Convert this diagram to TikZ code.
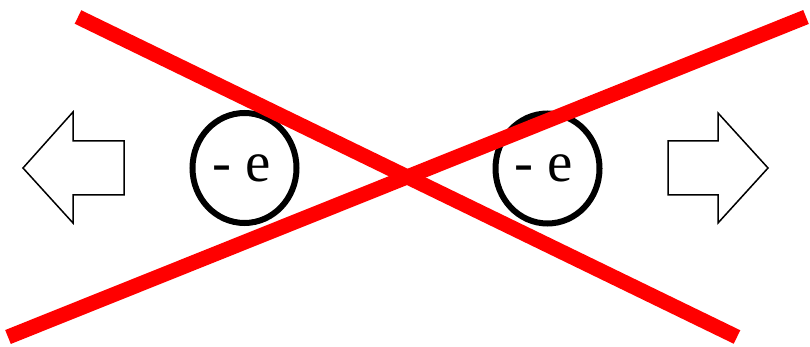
\documentclass[tikz,border=0pt]{standalone}
\usepackage{fontspec}
\setmainfont{Liberation Serif}
\usetikzlibrary{shapes.geometric}
\begin{document}
\begin{tikzpicture}[x=1pt,y=-1pt,
  charge/.style={ellipse,draw=black,line width=6pt,minimum width=104pt,minimum height=110pt,inner sep=0pt},
  chargetext/.style={anchor=base,inner sep=0pt,font=\fontsize{57}{57}\selectfont},
  bigarrow/.style={draw=black,line width=1.5pt,fill=white,line join=miter},
  cross/.style={draw=red,line width=15pt,line cap=butt}]
\useasboundingbox (0,0) rectangle (810,347);
% arrows
\draw[bigarrow] (23,168) -- (73,112) -- (73,141) -- (124,141) -- (124,195) -- (73,195) -- (73,223) -- cycle;
\draw[bigarrow] (768,168) -- (718,113) -- (718,141) -- (668,141) -- (668,195) -- (718,195) -- (718,223) -- cycle;
% charges
\node[charge] (c1) at (244.5,168) {};
\node[charge] (c2) at (547.5,168.5) {};
\node[chargetext] (t1) at (241.5,181.7) {- e};
\node[chargetext] (t2) at (543.5,181.7) {- e};
% cross
\coordinate (a1) at (78,17);
\coordinate (a2) at (737,337);
\coordinate (b1) at (8,337);
\coordinate (b2) at (806,17);
\draw[cross] (a1) -- (a2);
\draw[cross] (b1) -- (b2);
\end{tikzpicture}
\end{document}
